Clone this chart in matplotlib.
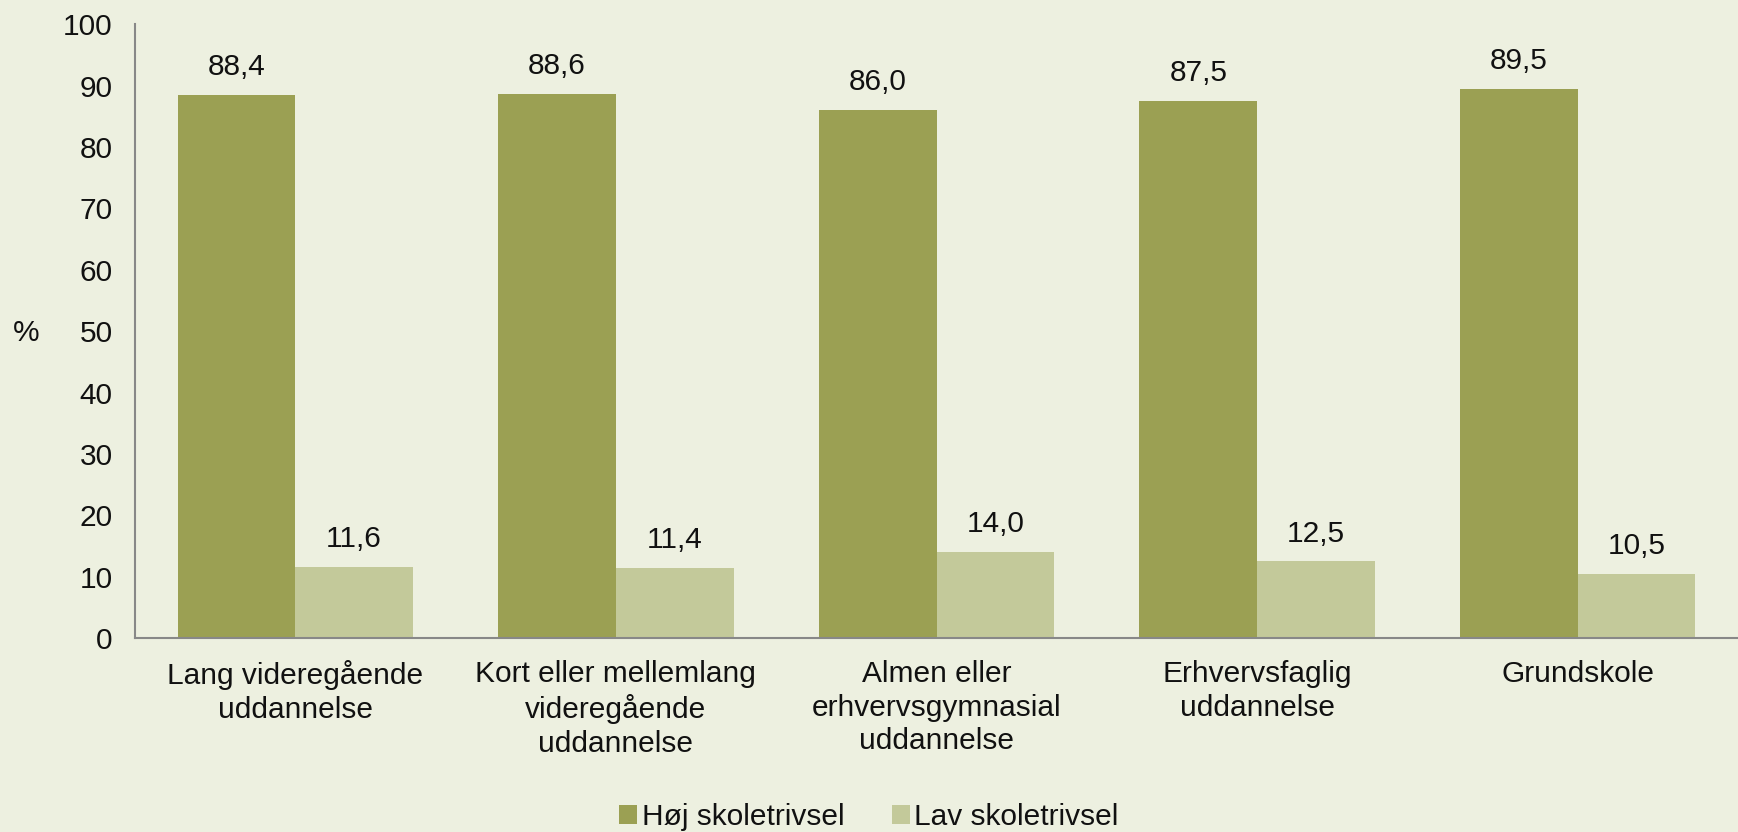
import numpy as np
import matplotlib.pyplot as plt

# --- Data ---
categories = ["Lang videregående\nuddannelse",
              "Kort eller mellemlang\nvideregående\nuddannelse",
              "Almen eller\nerhvervsgymnasial\nuddannelse",
              "Erhvervsfaglig\nuddannelse",
              "Grundskole"]
hoj = [88.4, 88.6, 86.0, 87.5, 89.5]
lav = [11.6, 11.4, 14.0, 12.5, 10.5]
series_names = ["Høj skoletrivsel", "Lav skoletrivsel"]

bg = "#EDF0E0"
dark = "#9BA053"
light = "#C3C99A"
fs = 21.5

plt.rcParams['font.family'] = ['Liberation Sans', 'DejaVu Sans']
plt.rcParams['text.color'] = '#111111'

fig = plt.figure(figsize=(17.38, 8.32), dpi=100, facecolor=bg)
ax = fig.add_axes([0.0777, 0.233, 0.9223, 0.738])
ax.set_facecolor(bg)

x = np.arange(len(categories))
w = 0.367
b1 = ax.bar(x - w / 2, hoj, w, color=dark, label=series_names[0])
b2 = ax.bar(x + w / 2, lav, w, color=light, label=series_names[1])

# value labels with decimal comma
for bars in (b1, b2):
    for r in bars:
        v = r.get_height()
        ax.annotate(f"{v:.1f}".replace(".", ","), (r.get_x() + r.get_width() / 2, v),
                    xytext=(0, 10), textcoords="offset points",
                    ha="center", va="bottom", fontsize=fs)

ax.set_xlim(-0.5, len(categories) - 0.5)
ax.set_ylim(0, 100)
ax.set_yticks(range(0, 101, 10))
ax.set_xticks(x)
ax.set_xticklabels(categories, fontsize=fs, linespacing=1.25)
ax.tick_params(axis="y", length=0, labelsize=fs, pad=16, labelcolor='#111111')
ax.tick_params(axis="x", length=0, pad=16, labelcolor='#111111')

for s in ("top", "right"):
    ax.spines[s].set_visible(False)
for s in ("left", "bottom"):
    ax.spines[s].set_color("#888888")
    ax.spines[s].set_linewidth(1.5)

fig.text(0.015, 0.60, "%", fontsize=fs, ha="center", va="center")

fig.legend(handles=[b1, b2], labels=series_names, loc="center", bbox_to_anchor=(0.5, 0.018),
           ncol=2, frameon=False, fontsize=fs, handlelength=0.6, handleheight=0.6,
           handletextpad=0.15, columnspacing=1.6, borderpad=0)

fig.savefig("out.png", dpi=100, facecolor=bg)
